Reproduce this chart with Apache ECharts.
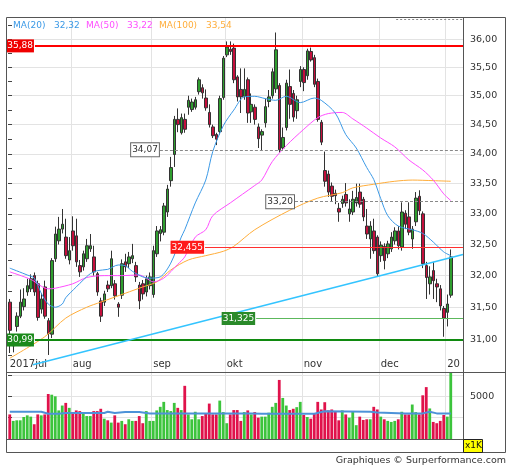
<!DOCTYPE html>
<html><head><meta charset="utf-8">
<script src="https://cdn.jsdelivr.net/npm/echarts@6/dist/echarts.min.js"></script>
<style>html,body{margin:0;padding:0;background:#fff}#c{width:512px;height:470px}</style>
</head><body><div id="c"></div>
<script>
// [open, close, low, high]
const candles = [
[31.58,31.14,30.79,31.63],[30.90,30.94,30.80,30.97],[31.20,31.36,31.12,31.42],[31.36,31.58,31.33,31.78],
[31.51,31.63,31.45,31.80],[31.74,31.84,31.68,31.95],[31.79,31.95,31.74,32.02],[32.00,31.74,31.68,32.05],
[31.87,31.34,31.29,31.92],[31.47,31.63,31.40,31.72],[31.82,31.36,31.32,31.92],[31.29,31.09,30.76,31.33],
[31.08,32.24,31.02,32.28],[32.27,32.67,32.22,32.79],[32.56,32.75,32.50,32.95],[32.75,32.83,32.68,33.08],
[32.62,32.32,32.27,32.92],[32.25,32.40,32.18,32.62],[32.72,32.48,32.40,32.96],[32.64,32.22,32.14,32.92],
[32.16,32.06,31.98,32.25],[32.14,32.35,32.08,32.40],[32.27,32.48,32.22,32.59],[32.43,32.48,32.38,32.67],
[32.30,32.06,32.00,32.48],[32.03,31.74,31.68,32.06],[31.60,31.36,31.27,31.65],[31.58,31.71,31.52,31.76],
[31.85,31.79,31.74,31.92],[31.84,32.27,31.80,32.40],[31.87,31.68,31.62,31.93],[31.55,31.50,31.35,31.58],
[31.69,32.19,31.63,32.26],[32.22,32.14,32.06,32.35],[32.19,32.30,32.12,32.38],[32.27,32.32,32.20,32.51],
[32.16,31.98,31.90,32.22],[31.85,31.60,31.47,31.90],[31.87,31.71,31.62,31.93],[31.74,31.95,31.67,32.00],
[31.84,31.98,31.78,32.05],[31.70,32.40,31.65,32.48],[32.35,32.72,32.30,32.80],[32.68,32.74,32.55,32.80],
[32.70,33.13,32.65,33.18],[33.03,33.41,32.95,33.48],[33.55,33.77,33.45,33.95],[33.99,34.59,33.78,34.65],
[34.59,34.50,34.37,34.78],[34.36,34.62,34.33,34.69],[34.59,34.42,34.36,34.69],[34.80,34.92,34.67,35.00],
[34.76,34.89,34.72,34.95],[34.80,34.93,34.76,34.98],[35.07,35.28,35.02,35.32],[35.14,35.05,34.95,35.20],
[34.96,34.79,34.74,35.11],[34.71,34.50,34.45,34.85],[34.46,34.31,34.27,34.50],[34.33,34.25,34.15,34.36],
[34.38,34.95,34.33,35.00],[34.97,35.66,34.93,35.70],[35.72,35.86,35.68,35.96],[35.82,35.78,35.72,35.96],
[35.84,35.28,35.22,35.92],[35.33,34.98,34.90,35.36],[35.11,34.98,34.70,35.48],[34.99,35.11,34.93,35.48],
[35.28,34.70,34.53,35.32],[34.72,34.85,34.53,35.04],[34.80,34.59,34.50,34.85],[34.46,34.26,34.10,34.52],
[34.32,34.38,34.05,34.42],[34.53,34.81,34.45,34.95],[34.90,34.98,34.80,35.10],[35.00,35.42,34.95,35.48],
[35.12,35.81,35.05,36.12],[35.18,34.07,34.02,35.22],[34.10,34.28,34.06,34.45],[34.45,35.22,34.40,35.28],
[35.16,34.85,34.60,35.46],[35.04,34.63,34.55,35.10],[34.74,34.93,34.60,35.00],[35.25,35.46,35.15,35.52],
[35.46,35.23,35.08,35.50],[35.35,35.79,35.28,35.83],[35.78,35.63,35.60,35.85],[35.67,35.20,35.15,35.72],
[35.25,34.59,34.55,35.30],[34.54,34.20,34.15,34.58],[33.72,33.54,33.45,34.04],[33.66,33.36,33.28,33.72],
[33.46,33.29,33.20,33.52],[33.34,33.30,33.16,33.40],[33.09,33.03,32.87,33.18],[33.17,33.24,33.10,33.30],
[33.32,33.18,33.12,33.51],[33.00,33.08,32.87,33.24],[33.03,33.24,32.98,33.38],[33.18,33.27,33.12,33.50],
[33.36,33.16,33.10,33.50],[33.24,32.95,32.88,33.28],[32.80,32.67,32.59,33.08],[32.59,32.80,32.27,32.88],
[32.72,32.40,32.35,32.92],[32.62,32.03,31.98,32.65],[32.32,32.49,32.22,32.55],[32.47,32.24,32.10,32.52],
[32.35,32.51,32.28,32.56],[32.43,32.62,32.38,32.70],[32.56,32.72,32.50,32.78],[32.72,32.48,32.42,32.80],
[32.46,33.03,32.40,33.19],[33.01,32.83,32.75,33.06],[32.95,32.70,32.65,33.19],[32.59,32.75,32.43,32.80],
[32.87,33.26,32.80,33.36],[33.29,33.05,32.98,33.39],[33.00,32.19,32.12,33.04],[32.16,31.97,31.63,32.22],
[31.87,31.98,31.70,32.15],[32.08,31.92,31.63,32.22],[31.87,31.82,31.58,31.95],[31.79,31.52,31.45,31.85],
[31.48,31.33,31.04,31.52],[31.42,31.55,31.20,31.70],[31.69,32.30,31.65,32.42]
];
// volume in thousands
const volumes = [
2880,2120,2190,2190,2580,2770,2620,1730,2880,2770,2880,5270,5190,5000,3350,3920,4230,3650,
3000,3350,3270,2960,2690,2690,3270,3270,3540,2380,2190,1920,2770,1920,2120,1730,2310,2120,2120,2690,1850,3270,2120,
2120,3350,3770,4350,3390,3270,4230,3650,3390,6230,2880,2310,3190,2310,2690,3000,4150,2880,2880,4500,
3150,1850,2880,3390,3390,2120,3150,3350,2880,3150,2500,2620,2620,3080,3770,4230,6920,4810,3920,3390,3540,3730,4350,
2810,2580,2380,2960,4350,3460,4310,3350,3460,3270,2190,3350,2880,2500,3190,1620,2620,2230,2310,2310,3770,3460,
2620,2310,2120,2000,2120,2310,3190,2880,2880,4040,3150,2880,5120,6080,3580,2000,1850,2120,2810,
2620,7880
];
// moving averages: [day index, value]
const ma20 = [[0,32.12],[5,32.01],[7,31.96],[9,31.72],[11,31.55],[13,31.50],[15,31.55],[16,31.65],[19,31.82],[21,31.93],
[23,32.03],[25,32.08],[28,32.10],[31,32.17],[33,32.16],[35,32.07],[38,31.98],[40,31.96],[43,31.98],[46,32.20],[49,32.62],
[50,32.74],[53,33.18],[56,33.56],[58,34.04],[61,34.48],[64,34.75],[67,34.98],[70,34.99],[73,34.95],[76,34.92],[79,34.99],
[83,34.88],[87,34.96],[89,34.92],[93,34.70],[96,34.33],[99,34.10],[102,33.77],[104,33.57],[106,33.25],[108,32.97],
[111,32.80],[115,32.74],[118,32.68],[121,32.54],[124,32.38],[126,32.32]];
const ma50 = [[0,32.06],[6,31.94],[11,31.79],[13,31.80],[18,31.87],[22,31.97],[27,32.00],[32,32.00],[37,32.01],[39,31.96],
[41,31.90],[44,31.96],[48,32.18],[50,32.30],[53,32.62],[56,32.74],[58,32.97],[63,33.18],[70,33.47],[72,33.56],[75,33.87],
[79,34.14],[84,34.42],[88,34.62],[91,34.69],[95,34.71],[98,34.60],[102,34.44],[106,34.27],[110,34.12],[114,33.90],
[118,33.73],[121,33.56],[124,33.33],[126,33.22]];
const ma100 = [[0,30.71],[10,31.04],[16,31.33],[22,31.50],[26,31.58],[33,31.72],[38,31.82],[42,31.90],[46,32.09],[51,32.25],
[56,32.32],[61,32.39],[64,32.47],[70,32.74],[80,33.06],[88,33.26],[95,33.35],[98,33.43],[104,33.49],[110,33.54],
[115,33.56],[121,33.55],[126,33.54]];
const volMA = [[0,3190],[9,3190],[11,2960],[14,2960],[16,3050],[27,3050],[28,3190],[30,3050],[33,3150],[37,3150],[40,3000],
[69,3000],[72,2950],[87,2950],[90,3250],[103,3200],[105,3100],[113,3000],[118,3000],[120,3200],[122,3000],[126,3000]];
const monthLabels = ['2017jul','aug','sep','okt','nov','dec','20'];
const monthStarts = [0,18,41,62,84,106,125];
const priceLabels = [31,31.5,32,32.5,33,33.5,34,34.5,35,35.5,36];
const priceTicks = [30.75,31,31.25,31.5,31.75,32,32.25,32.5,32.75,33,33.25,33.5,33.75,34,34.25,34.5,34.75,35,35.25,35.5,35.75,36,36.25];
const levelValues = [35.88,34.07,33.20,32.455,31.325,30.99];
const levelLabels = ['35,88','34,07','33,20','32,455','31,325','30,99'];
const levelStartDay = [7.7,43.4,82,56.3,70.9,7.7];
const trendLine = [[7.1,30.61],[130,32.34]];
const topLevel = [[110.9,36.36],[130,36.36]];

const N = 130;
const L = Math.log;
const FONT = 'DejaVu Sans';
const cats = []; for (let i = 0; i < N; i++) cats.push(String(i));
const up = candles.map(c => c[1] >= c[0]);

const levelStyles = [
  {line:{color:'#ff0000',width:2,type:'solid'}, label:{color:'#fff',backgroundColor:'#f00000'}},
  {line:{color:'#888',width:1,type:[3,2]}, label:{color:'#333',backgroundColor:'#fff',borderColor:'#666',borderWidth:1}},
  {line:{color:'#888',width:1,type:[3,2]}, label:{color:'#333',backgroundColor:'#fff',borderColor:'#666',borderWidth:1}},
  {line:{color:'#ff3030',width:1,type:'solid'}, label:{color:'#fff',backgroundColor:'#ff1a1a'}},
  {line:{color:'#5cb85c',width:1.2,type:'solid'}, label:{color:'#fff',backgroundColor:'#2a8a2a'}},
  {line:{color:'#108a10',width:2,type:'solid'}, label:{color:'#fff',backgroundColor:'#1a8a1a'}}
];

const markData = levelValues.map((v, k) => [
  {coord:[levelStartDay[k], L(v)], lineStyle: levelStyles[k].line,
   label:Object.assign({show:true, position:'start', distance:1, formatter: levelLabels[k], fontSize:9,
     fontFamily:FONT, lineHeight:11, padding:[1,1,1,1]}, levelStyles[k].label)},
  {coord:[N, L(v)]}
]);
markData.push([{coord:[trendLine[0][0], L(trendLine[0][1])], lineStyle:{color:'#33c4ff',width:1.5,type:'solid'}, label:{show:false}},
               {coord:[trendLine[1][0], L(trendLine[1][1])]}]);
markData.push([{coord:[topLevel[0][0], L(topLevel[0][1])], lineStyle:{color:'#888',width:1,type:[2,2]}, label:{show:false}},
               {coord:[topLevel[1][0], L(topLevel[1][1])]}]);

const maLine = (arr, color) => ({
  type:'line', xAxisIndex:2, yAxisIndex:0, data: arr.map(p => [p[0] + 0.5, L(p[1])]),
  showSymbol:false, smooth:0.3, lineStyle:{color:color, width:1}, z:3, silent:true
});
const fmt2 = v => v.toFixed(2).replace('.', ',');
const pMin = L(30.5), pMax = L(36.4);
const grid0 = '#e3e3e3';

const option = {
  animation:false,
  textStyle:{fontFamily:FONT},
  grid:[{left:8, top:17, width:455, height:355},{left:8, top:372, width:455, height:67}],
  xAxis:[
    {type:'category', gridIndex:0, data:cats, show:false, boundaryGap:true},
    {type:'category', gridIndex:1, data:cats, show:false, boundaryGap:true},
    {type:'value', gridIndex:0, min:0, max:N, axisLine:{show:false}, axisLabel:{show:false},
     axisTick:{show:false, customValues: monthStarts.slice(1)}, splitLine:{show:true, lineStyle:{color:grid0}}},
    {type:'value', gridIndex:1, min:0, max:N, axisLine:{show:false},
     axisTick:{show:false, customValues: monthStarts.slice(1)}, splitLine:{show:true, lineStyle:{color:grid0}},
     axisLabel:{show:true, customValues: monthStarts.map(m => m + 0.5), align:'left', margin:3, fontSize:10, color:'#333',
       formatter: v => monthLabels[monthStarts.indexOf(Math.round(v - 0.5))] || ''}}
  ],
  yAxis:[
    {type:'value', gridIndex:0, position:'right', min:pMin, max:pMax, axisLine:{show:false},
     axisTick:{show:true, length:4, customValues: priceTicks.map(L), lineStyle:{color:'#444'}},
     axisLabel:{customValues: priceLabels.map(L), formatter: v => fmt2(Math.exp(v)), margin:7, fontSize:9.5, color:'#333'},
     splitLine:{show:false}},
    {type:'value', gridIndex:0, position:'right', min:pMin, max:pMax, axisLine:{show:false},
     axisTick:{show:false, customValues: priceLabels.map(L)}, axisLabel:{show:false},
     splitLine:{show:true, lineStyle:{color:grid0}}},
    {type:'value', gridIndex:1, position:'right', min:0, max:7850, interval:2500, axisLine:{show:false},
     axisTick:{show:true, length:4, lineStyle:{color:'#444'}},
     axisLabel:{formatter: v => v === 5000 ? '5000' : '', margin:7, fontSize:9.5, color:'#333'},
     splitLine:{show:true, lineStyle:{color:grid0}}}
  ],
  series:[
    {type:'candlestick', xAxisIndex:0, yAxisIndex:0, barWidth:3,
     data: candles.map(c => c.map(L)),
     itemStyle:{color:'#2f9e2f', color0:'#c40f3c', borderColor:'#333', borderColor0:'#333', borderWidth:1}, z:2},
    {type:'bar', xAxisIndex:1, yAxisIndex:2, barWidth:'80%',
     data: volumes.map((v, i) => ({value:v, itemStyle:{color: up[i] ? '#3cc43c' : '#e0124b'}}))},
    {type:'line', xAxisIndex:3, yAxisIndex:2, data: volMA.map(p => [p[0] + 0.5, p[1]]), showSymbol:false,
     lineStyle:{color:'#4d92d8', width:2}, z:3},
    maLine(ma100, '#ffad3a'),
    maLine(ma50, '#ff4dff'),
    maLine(ma20, '#3b99e6'),
    {type:'line', xAxisIndex:2, yAxisIndex:0, data:[], z:5,
     markLine:{silent:true, symbol:['none','none'], data: markData}}
  ],
  graphic:[
    {type:'rect', z:100, shape:{x:6.5, y:17.5, width:499, height:435}, style:{fill:'none', stroke:'#555', lineWidth:1}},
    {type:'line', z:100, shape:{x1:463.5, y1:17, x2:463.5, y2:452}, style:{stroke:'#555', lineWidth:1}},
    {type:'line', z:100, shape:{x1:6, y1:372.5, x2:505, y2:372.5}, style:{stroke:'#555', lineWidth:1}},
    {type:'line', z:100, shape:{x1:6, y1:439.5, x2:463, y2:439.5}, style:{stroke:'#555', lineWidth:1}},
    {type:'text', z:100, left:13, top:21, style:{text:'MA(20)', fill:'#3b99e6', font:'9px "DejaVu Sans"'}},
    {type:'text', z:100, left:54, top:21, style:{text:fmt2(ma20[ma20.length-1][1]), fill:'#3b99e6', font:'9px "DejaVu Sans"'}},
    {type:'text', z:100, left:86, top:21, style:{text:'MA(50)', fill:'#ff4dff', font:'9px "DejaVu Sans"'}},
    {type:'text', z:100, left:127, top:21, style:{text:fmt2(ma50[ma50.length-1][1]), fill:'#ff4dff', font:'9px "DejaVu Sans"'}},
    {type:'text', z:100, left:159, top:21, style:{text:'MA(100)', fill:'#ffad3a', font:'9px "DejaVu Sans"'}},
    {type:'text', z:100, left:206, top:21, style:{text:fmt2(ma100[ma100.length-1][1]), fill:'#ffad3a', font:'9px "DejaVu Sans"'}},
    {type:'rect', z:100, shape:{x:463.5, y:439.5, width:19, height:13}, style:{fill:'#ffff00', stroke:'#222', lineWidth:1}},
    {type:'text', z:101, left:465, top:441, style:{text:'x1K', fill:'#111', font:'9px "DejaVu Sans"'}},
    {type:'text', z:100, right:6, top:456, style:{text:'Graphiques © Surperformance.com', fill:'#333', font:'9.5px "DejaVu Sans"'}}
  ]
};
echarts.init(document.getElementById('c'), null, {renderer:'canvas'}).setOption(option);
</script></body></html>
